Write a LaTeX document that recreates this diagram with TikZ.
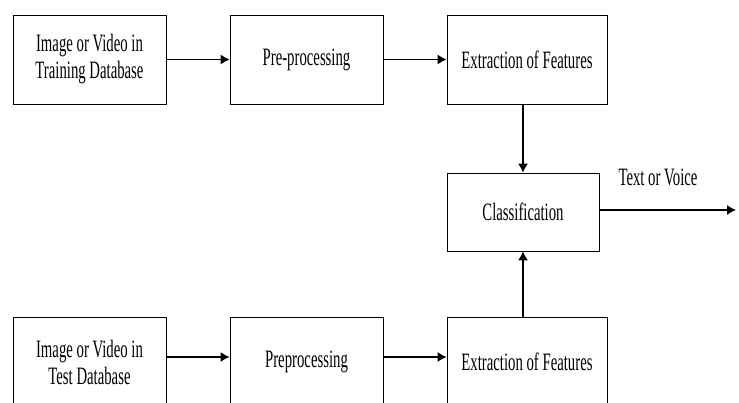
\documentclass[tikz,border=0pt]{standalone}
\usepackage{fontspec}
\setmainfont{Liberation Serif}[FakeStretch=0.59]
\usetikzlibrary{calc,arrows.meta}

\tikzset{block/.style={draw, line width=0.8pt, minimum width=153pt, minimum height=89pt,
    align=center, inner sep=0pt, font=\fontsize{25}{27}\selectfont}}
\tikzset{flow/.style={-{Latex[length=9pt,width=10pt]}, line width=1.3pt}}

\begin{document}
\begin{tikzpicture}[x=1pt, y=-1pt]
    \useasboundingbox (0,0) rectangle (739,402);
    % Training branch
    \node[block] (train) at (89.5,59.5) {Image or Video in\\Training Database};
    \node[block] (prepA) at (306.5,59.5) {Pre-processing};
    \node[block, minimum width=160pt] (featA) at (527,59.5) {Extraction of Features};
    % Classifier and output
    \node[block, minimum height=78pt, minimum width=152pt] (class) at (523,212) {Classification};
    \coordinate (out) at (736,210);
    \node[font=\fontsize{25}{27}\selectfont, inner sep=0pt] (result) at (658,177) {Text or Voice};
    % Test branch
    \node[block, minimum height=90pt] (test) at (89.5,362) {Image or Video in\\Test Database};
    \node[block, minimum height=90pt] (prepB) at (306.5,362) {Preprocessing};
    \node[block, minimum height=90pt, minimum width=160pt] (featB) at (527,362) {Extraction of Features};
    % Arrows
    \draw[flow] (train) -- (prepA);
    \draw[flow] (prepA) -- (featA);
    \draw[flow] (featA.south -| class.north) -- (class.north);
    \draw[flow] ([yshift=5pt]test.east) -- ([yshift=5pt]prepB.west);
    \draw[flow] ([yshift=5pt]prepB.east) -- ([yshift=5pt]featB.west);
    \draw[flow] (featB.north -| class.south) -- (class.south);
    \draw[flow] (class.east |- out) -- (out);
\end{tikzpicture}
\end{document}
